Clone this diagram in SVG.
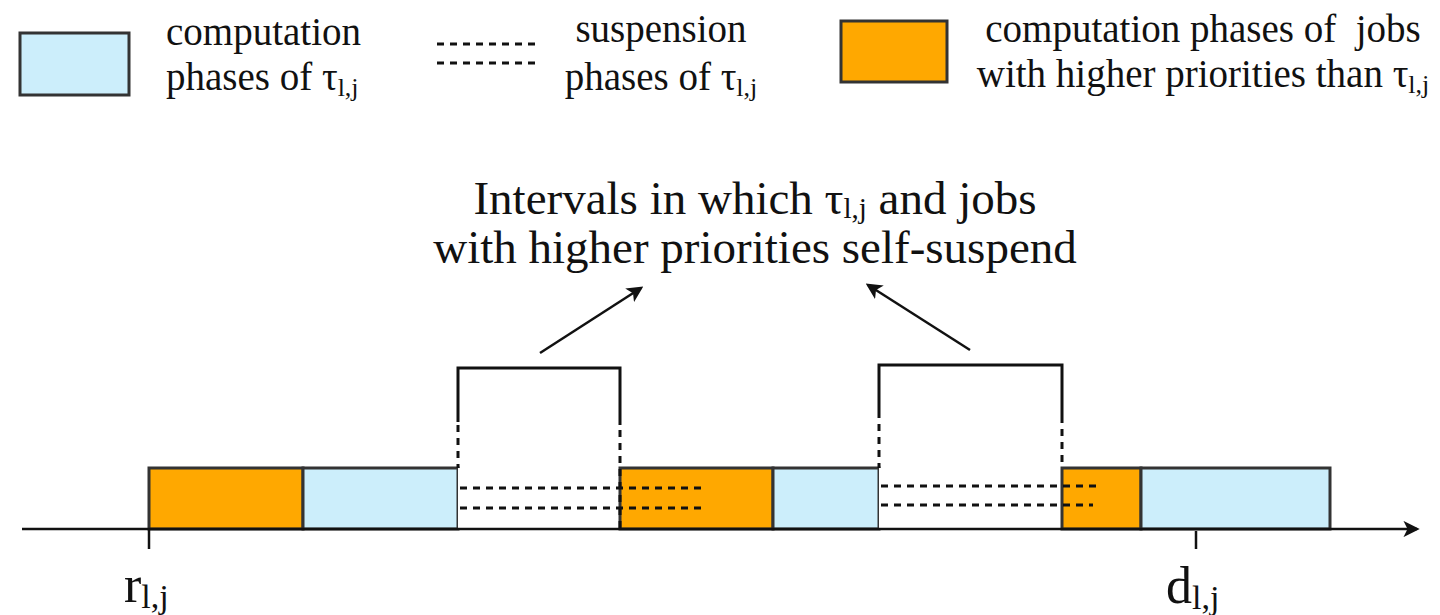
<svg xmlns="http://www.w3.org/2000/svg" width="1440" height="615" viewBox="0 0 1440 615">
  <style>
    text { font-family: "Liberation Serif", "Times New Roman", serif; fill: #111; }
    .leg { font-size: 39px; }
    .sub { font-size: 26px; }
    .title { font-size: 47px; }
    .lab { font-size: 52px; }
    .labsub { font-size: 34px; }
    .own { fill: #CCEEFB; stroke: #333; stroke-width: 3; }
    .hp { fill: #FFA800; stroke: #333; stroke-width: 3; }
    .susp { fill: #fff; stroke: none; }
    .solid { fill: none; stroke: #111; stroke-width: 3; }
    .dash { fill: none; stroke: #111; stroke-width: 3; stroke-dasharray: 7 6; }
  </style>
  <defs>
    <marker id="arrow" viewBox="0 0 12 12" refX="10" refY="6" markerWidth="6.5" markerHeight="6.5" orient="auto" markerUnits="strokeWidth">
      <path d="M0,0 L12,6 L0,12 L3,6 Z" fill="#111"/>
    </marker>
  </defs>

  <!-- legend -->
  <g id="legend-own">
    <rect class="own" x="20" y="33" width="109" height="62"/>
    <text class="leg" x="166" y="45">computation</text>
    <text class="leg" x="166" y="90">phases of τ<tspan class="sub" dy="6">l,j</tspan></text>
  </g>
  <g id="legend-suspension">
    <line class="dash" x1="437" y1="44" x2="537" y2="44"/>
    <line class="dash" x1="437" y1="63" x2="537" y2="63"/>
    <text class="leg" x="661" y="42" text-anchor="middle">suspension</text>
    <text class="leg" x="661" y="90" text-anchor="middle">phases of τ<tspan class="sub" dy="6">l,j</tspan></text>
  </g>
  <g id="legend-higher">
    <rect class="hp" x="841" y="21" width="106" height="61"/>
    <text class="leg" x="1203" y="42" text-anchor="middle" xml:space="preserve">computation phases of  jobs</text>
    <text class="leg" x="1203" y="87" text-anchor="middle">with higher priorities than τ<tspan class="sub" dy="6">l,j</tspan></text>
  </g>

  <!-- annotation -->
  <g id="annotation">
    <text class="title" x="755" y="214" text-anchor="middle">Intervals in which τ<tspan font-size="29" dy="4">l,j</tspan><tspan dy="-4"> and jobs</tspan></text>
    <text class="title" x="755" y="263" text-anchor="middle">with higher priorities self-suspend</text>
  </g>

  <!-- schedule phases -->
  <g id="phase-hp-1"><rect class="hp" x="149" y="468" width="154" height="61"/></g>
  <g id="phase-own-1"><rect class="own" x="303" y="468" width="155" height="61"/></g>
  <g id="phase-susp-1"><rect class="susp" x="458" y="468" width="162" height="61"/></g>
  <g id="phase-hp-2"><rect class="hp" x="620" y="468" width="153" height="61"/></g>
  <g id="phase-own-2"><rect class="own" x="773" y="468" width="106" height="61"/></g>
  <g id="phase-susp-2"><rect class="susp" x="879" y="468" width="183" height="61"/></g>
  <g id="phase-hp-3"><rect class="hp" x="1062" y="468" width="79" height="61"/></g>
  <g id="phase-own-3"><rect class="own" x="1141" y="468" width="189" height="61"/></g>

  <!-- suspension intervals -->
  <g id="interval-1">
    <path class="solid" d="M458,422 V368 H620 V425"/>
    <line class="dash" x1="458" y1="425" x2="458" y2="468"/>
    <line class="dash" x1="620" y1="430" x2="620" y2="529"/>
    <line class="dash" x1="460" y1="488" x2="703" y2="488"/>
    <line class="dash" x1="460" y1="508" x2="703" y2="508"/>
  </g>
  <g id="interval-2">
    <path class="solid" d="M879,418 V365 H1062 V423"/>
    <line class="dash" x1="879" y1="424" x2="879" y2="468"/>
    <line class="dash" x1="1062" y1="429" x2="1062" y2="468"/>
    <line class="dash" x1="881" y1="486" x2="1097" y2="486"/>
    <line class="dash" x1="881" y1="505" x2="1093" y2="505"/>
  </g>

  <!-- connectors -->
  <g id="connectors">
    <line x1="22" y1="529" x2="1417" y2="529" stroke="#111" stroke-width="2.5" marker-end="url(#arrow)"/>
    <line x1="149" y1="529" x2="149" y2="549" stroke="#111" stroke-width="2.5"/>
    <line x1="1196" y1="531" x2="1196" y2="549" stroke="#111" stroke-width="2.5"/>
    <line x1="540" y1="353" x2="641" y2="288" stroke="#111" stroke-width="2.5" marker-end="url(#arrow)"/>
    <line x1="970" y1="350" x2="868" y2="285" stroke="#111" stroke-width="2.5" marker-end="url(#arrow)"/>
  </g>

  <!-- time labels -->
  <g id="release">
    <text class="lab" x="124" y="602">r<tspan class="labsub" dy="6">l,j</tspan></text>
  </g>
  <g id="deadline">
    <text class="lab" x="1166" y="603">d<tspan class="labsub" dy="6">l,j</tspan></text>
  </g>
</svg>
